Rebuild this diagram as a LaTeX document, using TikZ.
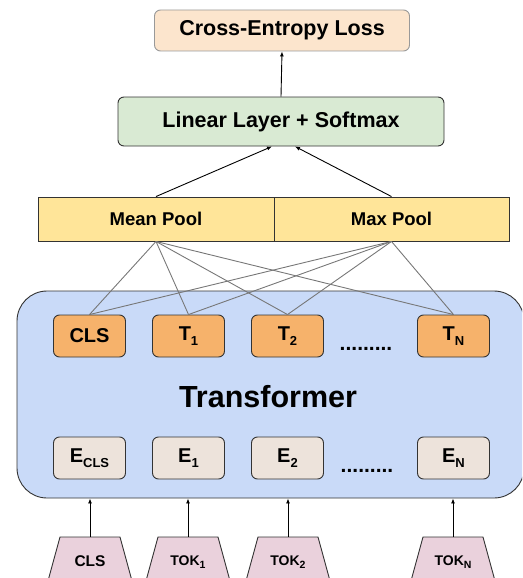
\documentclass[tikz,border=0pt]{standalone}
\usepackage{fontspec}
\setmainfont{Liberation Sans}
\usetikzlibrary{arrows.meta}
\definecolor{ceFill}{HTML}{FCE5CD}
\definecolor{linFill}{HTML}{D9EAD3}
\definecolor{poolFill}{HTML}{FFE599}
\definecolor{trFill}{HTML}{C9DAF8}
\definecolor{tFill}{HTML}{F6B26B}
\definecolor{eFill}{HTML}{EDE3DB}
\definecolor{tokFill}{HTML}{EAD1DC}
\definecolor{edge}{HTML}{333333}
\definecolor{conn}{HTML}{777777}
\newcommand{\sub}[1]{\raisebox{-4.5pt}{\fontsize{13}{13}\selectfont #1}}
\newcommand{\toksub}[1]{\raisebox{-3.5pt}{\fontsize{10.5}{10.5}\selectfont #1}}
\tikzset{
  topbox/.style={draw=#1, line width=0.9pt, rounded corners=6pt, inner sep=0pt, font=\fontsize{21.5}{21.5}\selectfont\bfseries},
  poolbox/.style={draw=edge, fill=poolFill, line width=0.9pt, minimum height=44pt, inner sep=0pt, font=\fontsize{18.5}{18.5}\selectfont\bfseries},
  tbox/.style={draw=edge, fill=tFill, line width=0.9pt, rounded corners=6pt, minimum width=72pt, minimum height=42pt, inner sep=0pt, font=\fontsize{20}{20}\selectfont\bfseries},
  ebox/.style={tbox, fill=eFill},
  dots/.style={font=\fontsize{21}{21}\selectfont\bfseries, inner sep=0pt},
  tok/.style={draw=edge, fill=tokFill, line width=0.9pt},
  toktext/.style={font=\fontsize{15.5}{15.5}\selectfont\bfseries, inner sep=0pt},
  tokntext/.style={font=\fontsize{14}{14}\selectfont\bfseries, inner sep=0pt},
  arrowline/.style={draw=black, line width=0.9pt, -{Latex[length=5pt,width=4pt]}},
  connline/.style={draw=conn, line width=0.9pt},
}
\begin{document}
\begin{tikzpicture}[x=1pt,y=-1pt]
\useasboundingbox (0,0) rectangle (522,578);
\clip (0,0) rectangle (522,578);

% top boxes
\node[topbox=gray!80, fill=ceFill, minimum width=255pt, minimum height=41pt] (ce) at (282,30.5) {Cross-Entropy Loss};
\node[topbox=edge, fill=linFill, minimum width=326pt, minimum height=49pt] (lin) at (281,121.5) {Linear Layer + Softmax};

% pools
\node[poolbox, minimum width=236pt] (mean) at (156,219) {Mean Pool};
\node[poolbox, minimum width=235pt] (max) at (391.5,219) {Max Pool};

% transformer
\node[draw=edge, fill=trFill, line width=0.9pt, rounded corners=30pt, minimum width=507pt, minimum height=207pt] (tr) at (270.5,394.5) {};
\node[font=\fontsize{30.5}{30.5}\selectfont\bfseries, inner sep=0pt] (trlabel) at (268,397) {Transformer};

% T row
\node[tbox] (t0) at (89.5,336) {CLS};
\node[tbox] (t1) at (188.5,336) {T\sub{1}};
\node[tbox] (t2) at (287.5,336) {T\sub{2}};
\node[tbox] (tn) at (453.5,336) {T\sub{N}};
\node[dots] (tdots) at (366,349) {.........};

% E row
\node[ebox] (e0) at (89.5,458) {E\sub{CLS}};
\node[ebox] (e1) at (188.5,458) {E\sub{1}};
\node[ebox] (e2) at (287.5,458) {E\sub{2}};
\node[ebox] (en) at (453.5,458) {E\sub{N}};
\node[dots] (edots) at (367,471) {.........};

% tokens (trapezoids)
\foreach \x/\n in {90/k0, 188/k1, 288/k2, 453/kn}{
  \coordinate (\n) at (\x,537);
  \path[tok] (\x-30,537) -- (\x+30,537) -- (\x+44.5,590) -- (\x-44.5,590) -- cycle;
}
\node[toktext] (k0t) at (90,561) {CLS};
\node[tokntext] (k1t) at (188,562) {TOK\toksub{1}};
\node[tokntext] (k2t) at (288,562) {TOK\toksub{2}};
\node[tokntext] (knt) at (453,562) {TOK\toksub{N}};

% connectors pool -> T
\foreach \t in {t0,t1,t2,tn}{
  \draw[connline] (mean.south) -- (\t.north);
  \draw[connline] (max.south) -- (\t.north);
}

% arrows
\draw[arrowline] (lin.north) -- (ce.south);
\draw[arrowline] (mean.north) -- ([xshift=-9pt]lin.south);
\draw[arrowline] (max.north) -- ([xshift=14pt]lin.south);
\foreach \n in {k0,k1,k2,kn}{
  \draw[arrowline] (\n) -- (\n |- tr.south);
}
\end{tikzpicture}
\end{document}
